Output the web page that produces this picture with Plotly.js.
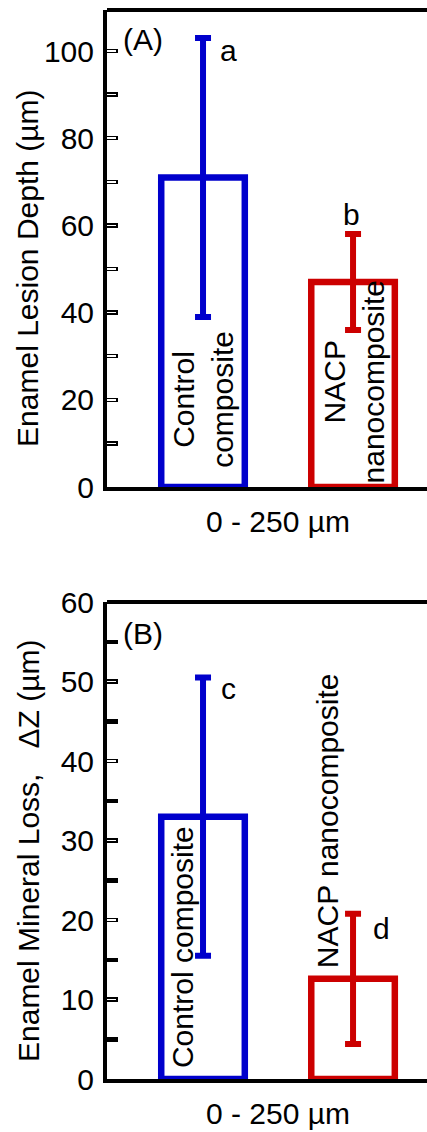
<!DOCTYPE html>
<html>
<head>
<meta charset="utf-8">
<script src="https://cdn.plot.ly/plotly-3.0.1.min.js"></script>
<style>
  html, body { margin: 0; padding: 0; background: #ffffff; overflow: hidden; }
  #chart { width: 427px; height: 1132px; }
</style>
</head>
<body>
<div id="chart"></div>
<script>
// ---- data ----
const categories = ["Control composite", "NACP nanocomposite"];
const barLabelsA = ["Control<br>composite", "NACP<br>nanocomposite"];
const barLabelsB = ["Control composite", "NACP nanocomposite"];
const lesionDepth = [71, 47];          // panel A, µm
const lesionDepthSD = [32, 11];
const mineralLoss = [33, 12.6];        // panel B, ΔZ µm
const mineralLossSD = [17.5, 8.2];
const lettersA = ["a", "b"];
const lettersB = ["c", "d"];
const xTickLabel = ["0 - 250 µm"];
const panelLabels = ["(A)", "(B)"];
const yTitles = ["Enamel Lesion Depth (µm)", "Enamel Mineral Loss,\u00a0\u00a0 ΔZ (µm)"];
const barColors = ["#0000CC", "#CC0000"];

const FONT = "Liberation Sans, Arial, Helvetica, sans-serif";
const FS = 30;
const idx = categories.map((_, i) => i);

const traces = [];
function addBars(values, sds, xa, ya) {
  idx.forEach(i => {
    traces.push({
      type: "bar",
      x: [idx[i]],
      y: [values[i]],
      name: categories[i],
      xaxis: xa, yaxis: ya,
      width: 0.557,
      marker: { color: "rgba(255,255,255,0)", line: { color: barColors[i], width: 6.5 } },
      error_y: { type: "data", array: [sds[i]], visible: true, color: barColors[i], thickness: 6, width: 8 },
      hoverinfo: "skip",
      showlegend: false
    });
  });
}
addBars(lesionDepth, lesionDepthSD, "x", "y");
addBars(mineralLoss, mineralLossSD, "x2", "y2");
// empty traces for hollow-tick overlay axes
traces.push({ type: "scatter", x: [], y: [], xaxis: "x", yaxis: "y3", showlegend: false });
traces.push({ type: "scatter", x: [], y: [], xaxis: "x2", yaxis: "y4", showlegend: false });

const H = 1132;
const topA = 10, botA = 487, topB = 602, botB = 1079;
const domA = [(H - botA) / H, (H - topA) / H];
const domB = [(H - botB) / H, (H - topB) / H];
const xRange = [-0.64, 1.493];
const yRangeA = [0, (botA - topA) / 4.36];
const yRangeB = [0, 60];

const tickFont = { family: FONT, size: FS, color: "#000" };

const xaxisBase = {
  range: xRange, fixedrange: true,
  showline: true, linewidth: 4, linecolor: "#000",
  ticks: "", tickmode: "array", tickvals: [0.5], ticktext: xTickLabel,
  tickfont: tickFont, showgrid: false, zeroline: false,
  ticklabelstandoff: 5
};
const yaxisBase = {
  fixedrange: true, showline: true, linewidth: 4, linecolor: "#000",
  ticks: "inside", ticklen: 11, tickwidth: 4.5, tickcolor: "#000",
  tickfont: tickFont, showgrid: false, zeroline: false,
  ticklabelstandoff: 3
};

const layout = {
  width: 427, height: 1132,
  margin: { l: 107, r: 0, t: 0, b: 0 },
  paper_bgcolor: "#fff", plot_bgcolor: "#fff",
  barmode: "overlay",
  showlegend: false,
  font: { family: FONT, size: FS, color: "#000" },
  xaxis: Object.assign({}, xaxisBase, { anchor: "y", domain: [0, 1] }),
  xaxis2: Object.assign({}, xaxisBase, { anchor: "y2", domain: [0, 1] }),
  yaxis: Object.assign({}, yaxisBase, {
    anchor: "x", domain: domA, range: yRangeA, tickvals: [0, 20, 40, 60, 80, 100],
    minor: { tickvals: [10, 30, 50, 70, 90], ticks: "inside", ticklen: 11, tickwidth: 4.5, tickcolor: "#000" }
  }),
  yaxis2: Object.assign({}, yaxisBase, {
    anchor: "x2", domain: domB, range: yRangeB, tickvals: [0, 10, 20, 30, 40, 50, 60],
    minor: { tickvals: [5, 15, 25, 35, 45, 55], ticks: "inside", ticklen: 11, tickwidth: 4.5, tickcolor: "#000" }
  }),
  // white inner strokes to make the hollow ticks
  yaxis3: {
    overlaying: "y", anchor: "x", range: yRangeA, fixedrange: true, showline: false,
    showgrid: false, zeroline: false, showticklabels: false,
    ticks: "inside", ticklen: 9, tickwidth: 1.5, tickcolor: "#fff",
    tickvals: [10, 20, 30, 40, 50, 60, 70, 80, 90, 100]
  },
  yaxis4: {
    overlaying: "y2", anchor: "x2", range: yRangeB, fixedrange: true, showline: false,
    showgrid: false, zeroline: false, showticklabels: false,
    ticks: "inside", ticklen: 9, tickwidth: 1.5, tickcolor: "#fff",
    tickvals: [10, 20, 30, 40, 50]
  },
  shapes: [
    { type: "line", xref: "x domain", yref: "y domain", x0: 0, x1: 1, y0: 1, y1: 1, line: { color: "#000", width: 4 } },
    { type: "line", xref: "x2 domain", yref: "y2 domain", x0: 0, x1: 1, y0: 1, y1: 1, line: { color: "#000", width: 4 } }
  ],
  annotations: [
    // y-axis titles
    { xref: "paper", yref: "paper", x: -0.247, y: 0.7633, text: yTitles[0], textangle: -90, showarrow: false,
      xanchor: "center", yanchor: "middle", font: { family: FONT, size: FS, color: "#000" } },
    { xref: "paper", yref: "paper", x: -0.247, y: 0.2482, text: yTitles[1], textangle: -90, showarrow: false,
      xanchor: "center", yanchor: "middle", font: { family: FONT, size: FS, color: "#000" } },
    // panel labels
    { xref: "x", yref: "y", x: -0.4, y: 102.7, text: panelLabels[0], showarrow: false, font: { family: FONT, size: FS } },
    { xref: "x2", yref: "y2", x: -0.4, y: 56.1, text: panelLabels[1], showarrow: false, font: { family: FONT, size: FS } },
    // significance letters
    { xref: "x", yref: "y", x: 0.167, y: 100, text: lettersA[0], showarrow: false, font: { family: FONT, size: FS } },
    { xref: "x", yref: "y", x: 0.987, y: 62.6, text: lettersA[1], showarrow: false, font: { family: FONT, size: FS } },
    { xref: "x2", yref: "y2", x: 0.167, y: 49.1, text: lettersB[0], showarrow: false, font: { family: FONT, size: FS } },
    { xref: "x2", yref: "y2", x: 1.187, y: 18.9, text: lettersB[1], showarrow: false, font: { family: FONT, size: FS } },
    // rotated bar labels
    { xref: "x", yref: "y", x: 0, y: 20, text: barLabelsA[0], textangle: -90, showarrow: false,
      font: { family: FONT, size: FS } },
    { xref: "x", yref: "y", x: 1.007, y: 24, text: barLabelsA[1], textangle: -90, showarrow: false,
      font: { family: FONT, size: FS } },
    { xref: "x2", yref: "y2", x: -0.14, y: 16.6, text: barLabelsB[0], textangle: -90, showarrow: false,
      font: { family: FONT, size: FS } },
    { xref: "x2", yref: "y2", x: 0.83, y: 32.5, text: barLabelsB[1], textangle: -90, showarrow: false,
      font: { family: FONT, size: FS } }
  ]
};

Plotly.newPlot("chart", traces, layout, { staticPlot: true, displayModeBar: false });
</script>
</body>
</html>
